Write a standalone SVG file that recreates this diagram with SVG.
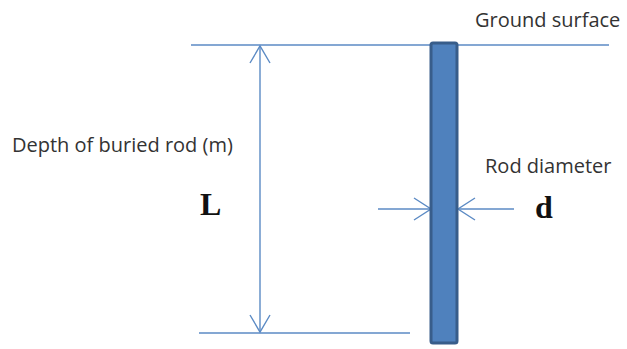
<svg xmlns="http://www.w3.org/2000/svg" width="627" height="349" viewBox="0 0 627 349">
<style>
.ln{stroke:#5b8ac4;stroke-width:1.4;fill:none}
.lbl{font-family:"Open Sans","DejaVu Sans",sans-serif;font-size:20px;fill:#333}
.sym{font-family:"Liberation Serif",serif;font-weight:bold;font-size:32px;fill:#111}
</style>
<rect width="627" height="349" fill="#fff"/>
<g id="connectors">
<line class="ln" x1="191" y1="45" x2="609" y2="45"/>
<line class="ln" x1="199" y1="333" x2="410" y2="333"/>
<line class="ln" x1="260" y1="46" x2="260" y2="332"/>
<polyline class="ln" points="250,63 260,46 270,63"/>
<polyline class="ln" points="250,315 260,332 270,315"/>
<line class="ln" x1="378" y1="209" x2="431" y2="209"/>
<polyline class="ln" points="414,198 431,209 414,220"/>
<line class="ln" x1="458" y1="209" x2="514" y2="209"/>
<polyline class="ln" points="475,198 458,209 475,220"/>
</g>
<g id="rod">
<rect x="431" y="43" width="26" height="300" rx="2" fill="#4f81bd" stroke="#385d8a" stroke-width="3"/>
</g>
<g id="ground-label"><text class="lbl" x="475" y="27">Ground surface</text></g>
<g id="depth-label"><text class="lbl" x="12" y="152">Depth of buried rod (m)</text></g>
<g id="L-label"><text class="sym" x="200" y="215">L</text></g>
<g id="diameter-label"><text class="lbl" x="485" y="173">Rod diameter</text></g>
<g id="d-label"><text class="sym" x="535" y="218">d</text></g>
</svg>
